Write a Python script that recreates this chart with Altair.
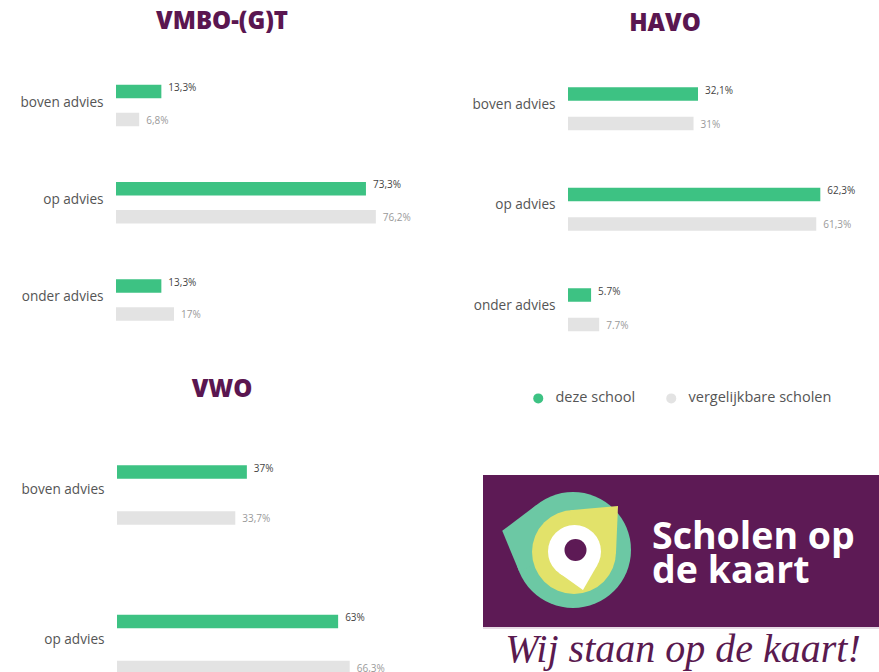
import altair as alt
import pandas as pd

# ---------------- data ----------------
categories = ["boven advies", "op advies", "onder advies"]
series = ["deze school", "vergelijkbare scholen"]
panel_titles = ["VMBO-(G)T", "HAVO", "VWO"]

vmbo_school = [13.3, 73.3, 13.3]
vmbo_similar = [6.8, 76.2, 17.0]
vmbo_school_labels = ["13,3%", "73,3%", "13,3%"]
vmbo_similar_labels = ["6,8%", "76,2%", "17%"]

havo_school = [32.1, 62.3, 5.7]
havo_similar = [31.0, 61.3, 7.7]
havo_school_labels = ["32,1%", "62,3%", "5.7%"]
havo_similar_labels = ["31%", "61,3%", "7.7%"]

vwo_categories = ["boven advies", "op advies"]
vwo_school = [37.0, 63.0]
vwo_similar = [33.7, 66.3]
vwo_school_labels = ["37%", "63%"]
vwo_similar_labels = ["33,7%", "66,3%"]

logo_lines = ["Scholen op", "de kaart"]
slogan = "Wij staan op de kaart!"

# ---------------- styles ----------------
GREEN = "#3dc283"
GRAY = "#e3e3e3"
TITLE_PURPLE = "#5a1650"
LOGO_PURPLE = "#5d1a55"
TEAL = "#6cc8a4"
YELLOW = "#e2e26a"
FONT = "Open Sans"


def panel_df(cats, school, similar, school_lbl, similar_lbl):
    rows = []
    for c, v, l in zip(cats, school, school_lbl):
        rows.append({"category": c, "series": series[0], "value": v, "label": l})
    for c, v, l in zip(cats, similar, similar_lbl):
        rows.append({"category": c, "series": series[1], "value": v, "label": l})
    return pd.DataFrame(rows)


def panel_layers(df, x0, px_per_pct, y0, step, offset, label_dy, axis_values):
    h = 13.5
    pi = 1 - h / offset
    po = (step / offset - 2 + pi) / 2
    xs = alt.Scale(domain=[0, 100], range=[x0, x0 + 100 * px_per_pct])
    ys = alt.Scale(domain=categories, range=[y0, y0 + 3 * step],
                   paddingInner=0, paddingOuter=0, round=False)
    yos = alt.Scale(domain=series, range=[0, step], paddingInner=pi,
                    paddingOuter=po, round=False)
    legend = alt.Legend(orient="none", legendX=531, legendY=391,
                        direction="horizontal", title=None,
                        symbolType="circle", symbolSize=100,
                        symbolStrokeWidth=0, labelFontSize=14.5,
                        labelColor="#555555", labelFont=FONT,
                        labelOffset=10, columnPadding=28, padding=0)
    bars = alt.Chart(df).mark_bar().encode(
        x=alt.X("value:Q", scale=xs, axis=None),
        y=alt.Y("category:N", scale=ys,
                axis=alt.Axis(orient="left", offset=-x0, values=axis_values,
                              domain=False, ticks=False, tickSize=0,
                              grid=False, title=None, labelPadding=13,
                              labelFont=FONT, labelFontSize=13.6,
                              labelColor="#555555", labelOffset=label_dy)),
        yOffset=alt.YOffset("series:N", scale=yos),
        color=alt.Color("series:N",
                        scale=alt.Scale(domain=series, range=[GREEN, GRAY]),
                        legend=legend),
    )
    labels = alt.Chart(df).mark_text(
        align="left", baseline="middle", dx=7, dy=-1,
        fontSize=10, font=FONT,
    ).encode(
        x=alt.X("value:Q", scale=xs, axis=None),
        y=alt.Y("category:N", scale=ys, axis=None),
        yOffset=alt.YOffset("series:N", scale=yos),
        text="label:N",
        color=alt.condition(alt.datum.series == series[0],
                            alt.value("#444444"), alt.value("#9a9a9a")),
    )
    return [bars, labels]


vmbo_df = panel_df(categories, vmbo_school, vmbo_similar,
                   vmbo_school_labels, vmbo_similar_labels)
havo_df = panel_df(categories, havo_school, havo_similar,
                   havo_school_labels, havo_similar_labels)
vwo_df = panel_df(vwo_categories, vwo_school, vwo_similar,
                  vwo_school_labels, vwo_similar_labels)

dummy = pd.DataFrame({"d": [0]})


def deco_text(text, x, y, **kw):
    return alt.Chart(dummy).mark_text(text=text, **kw).encode(
        x=alt.value(x), y=alt.value(y))


def deco_shape(shape, x, y, r, color):
    return alt.Chart(dummy).mark_point(
        shape=shape, size=(2 * r) ** 2, filled=True, color=color,
        opacity=1, strokeWidth=0,
    ).encode(x=alt.value(x), y=alt.value(y))


TEAL_TIP = "M -1.22 -0.33 L -0.632 -0.775 L 0 0 L -0.932 0.362 Z"
YELLOW_TIP = "M 1.048 -1.095 L -0.087 -0.996 L 0 0 L 0.999 0.042 Z"
PIN_TIP = "M 0.32 1.453 L 0.868 0.497 L 0 0 L -0.579 0.815 Z"

logo = [
    alt.Chart(dummy).mark_rect(color=LOGO_PURPLE).encode(
        x=alt.value(483), x2=alt.value(879), y=alt.value(475), y2=alt.value(627)),
    alt.Chart(dummy).mark_rect(color="#e6dbe4").encode(
        x=alt.value(483), x2=alt.value(879), y=alt.value(627), y2=alt.value(629)),
    deco_shape("circle", 573, 550, 58, TEAL),
    deco_shape(TEAL_TIP, 573, 550, 58, TEAL),
    deco_shape("circle", 574, 552, 42, YELLOW),
    deco_shape(YELLOW_TIP, 574, 552, 42, YELLOW),
    deco_shape("circle", 574.5, 551.5, 26.5, "white"),
    deco_shape(PIN_TIP, 574.5, 551.5, 26.5, "white"),
    deco_shape("circle", 575.5, 550, 11, LOGO_PURPLE),
    deco_text(logo_lines, 652, 549, align="left", baseline="alphabetic",
              font=FONT, fontWeight="bold", fontSize=37.5, lineHeight=34,
              color="white"),
    deco_text(slogan, 683, 662, align="center", baseline="alphabetic",
              font="Liberation Serif", fontStyle="italic", fontSize=40,
              color="#5a1a4f"),
]

titles = [
    deco_text(panel_titles[0], 222, 22, align="center", baseline="middle",
              font=FONT, fontWeight=800, fontSize=24, color=TITLE_PURPLE),
    deco_text(panel_titles[1], 665, 24, align="center", baseline="middle",
              font=FONT, fontWeight=800, fontSize=24, color=TITLE_PURPLE),
    deco_text(panel_titles[2], 222, 390, align="center", baseline="middle",
              font=FONT, fontWeight=800, fontSize=24, color=TITLE_PURPLE),
]

layers = (
    logo + titles
    + panel_layers(vmbo_df, 116, 3.41, 56.875, 97.25, 28, -3, categories)
    + panel_layers(havo_df, 568, 4.05, 58.5, 100.5, 29.5, -4, categories)
    + panel_layers(vwo_df, 117, 3.51, 420.25, 149.5, 46, -5, vwo_categories)
)

chart = alt.layer(*layers).resolve_scale(
    x="independent", y="independent", yOffset="independent"
).properties(
    width=879, height=672, padding=0,
    autosize=alt.AutoSizeParams(type="none"),
    background="white",
).configure_view(stroke=None)

chart.save("out.html", embed_options={"renderer": "svg", "actions": False})
